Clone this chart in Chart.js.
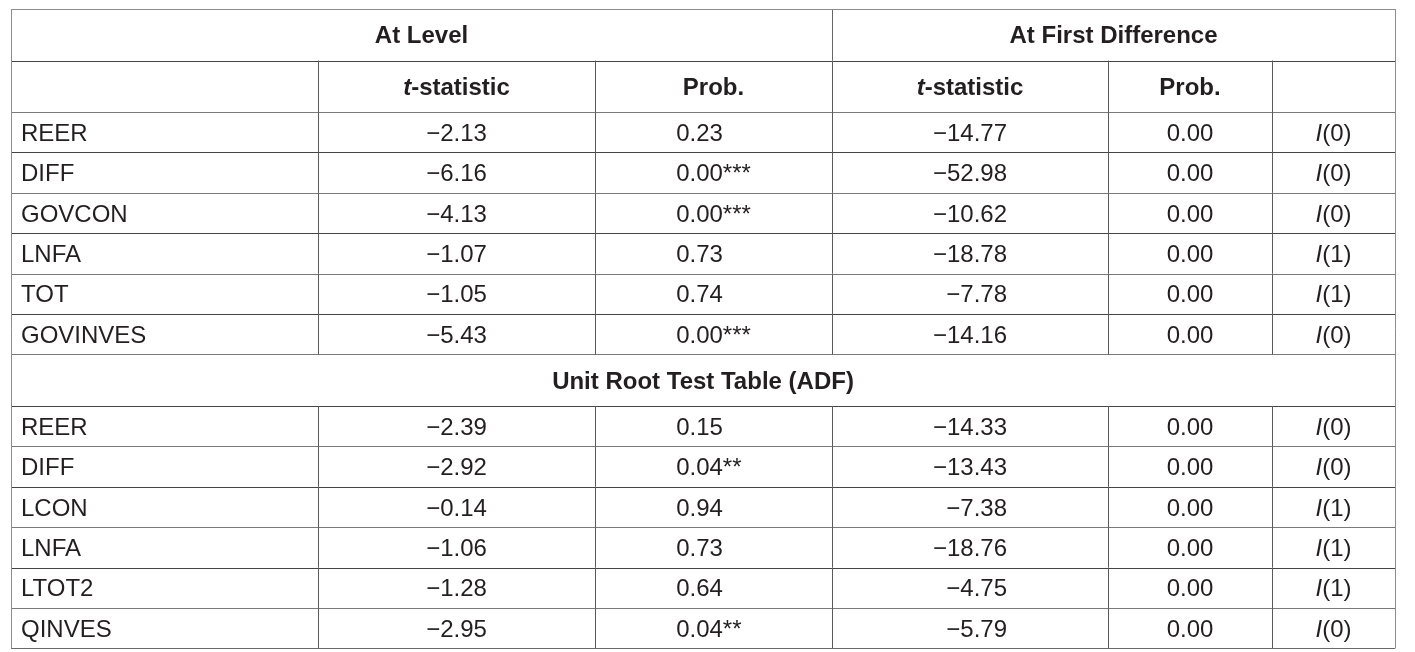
<!DOCTYPE html>
<html>
<head>
<meta charset="utf-8">
<script src="https://cdn.jsdelivr.net/npm/chart.js@4.4.0/dist/chart.umd.min.js"></script>
<style>
html,body{margin:0;padding:0;background:#fff;overflow:hidden}
canvas{display:block}
</style>
</head>
<body>
<canvas id="c" width="1415" height="652"></canvas>
<script>
// ---------- DATA ----------
const groupHeaders = ['At Level', 'At First Difference'];
const colHeaders = ['', 't-statistic', 'Prob.', 't-statistic', 'Prob.', ''];
const sectionTitle = 'Unit Root Test Table (ADF)';

const panelAVars   = ['REER', 'DIFF', 'GOVCON', 'LNFA', 'TOT', 'GOVINVES'];
const panelALevelT = [-2.13, -6.16, -4.13, -1.07, -1.05, -5.43];
const panelALevelP = [0.23, 0.00, 0.00, 0.73, 0.74, 0.00];
const panelAStars  = ['', '***', '***', '', '', '***'];
const panelADiffT  = [-14.77, -52.98, -10.62, -18.78, -7.78, -14.16];
const panelADiffP  = [0.00, 0.00, 0.00, 0.00, 0.00, 0.00];
const panelAOrder  = [0, 0, 0, 1, 1, 0];

const panelBVars   = ['REER', 'DIFF', 'LCON', 'LNFA', 'LTOT2', 'QINVES'];
const panelBLevelT = [-2.39, -2.92, -0.14, -1.06, -1.28, -2.95];
const panelBLevelP = [0.15, 0.04, 0.94, 0.73, 0.64, 0.04];
const panelBStars  = ['', '**', '', '', '', '**'];
const panelBDiffT  = [-14.33, -13.43, -7.38, -18.76, -4.75, -5.79];
const panelBDiffP  = [0.00, 0.00, 0.00, 0.00, 0.00, 0.00];
const panelBOrder  = [0, 0, 1, 1, 1, 0];

// ---------- LAYOUT (scale units) ----------
const colEdges = [11, 318, 595, 832, 1108, 1272, 1395];
const headerH = 51.5, dataH = 40.4, sectionH = 51.6, tableTop = 9;

const FONT = '"Liberation Sans", Arial, Helvetica, sans-serif';
const FS = 24;
const TXT = '#231f20';

function fmt(v){ const s = Math.abs(v).toFixed(2); return (v < 0 ? '\u2212' : '') + s; }

// build row list
const rows = [];
rows.push({type:'group'});
rows.push({type:'colhead'});
function pushPanel(vars, lt, lp, st, dt, dp, ord){
  for (let i = 0; i < vars.length; i++) {
    rows.push({type:'data', cells:[vars[i], fmt(lt[i]), lp[i].toFixed(2) + st[i], fmt(dt[i]), dp[i].toFixed(2), ord[i]]});
  }
}
pushPanel(panelAVars, panelALevelT, panelALevelP, panelAStars, panelADiffT, panelADiffP, panelAOrder);
rows.push({type:'section'});
pushPanel(panelBVars, panelBLevelT, panelBLevelP, panelBStars, panelBDiffT, panelBDiffP, panelBOrder);

const rowEdges = [tableTop];
rows.forEach(r => {
  const h = (r.type === 'group' || r.type === 'colhead') ? headerH : (r.type === 'section' ? sectionH : dataH);
  rowEdges.push(rowEdges[rowEdges.length - 1] + h);
});

const tablePlugin = {
  id: 'tablePlugin',
  beforeDraw(chart){
    const ctx = chart.ctx;
    ctx.save();
    ctx.fillStyle = '#fff';
    ctx.fillRect(0, 0, chart.width, chart.height);
    ctx.restore();
  },
  afterDraw(chart){
    const {ctx, scales:{x, y}} = chart;
    const X = v => x.getPixelForValue(v);
    const Y = v => y.getPixelForValue(v);
    const snap = p => Math.round(p) + 0.5;
    ctx.save();

    // ---- lines ----
    const line = (x1, y1, x2, y2, col) => {
      ctx.beginPath();
      ctx.strokeStyle = col;
      ctx.lineWidth = 1;
      if (y1 === y2) { ctx.moveTo(X(x1), snap(Y(y1))); ctx.lineTo(X(x2), snap(Y(y2))); }
      else { ctx.moveTo(snap(X(x1)), Y(y1)); ctx.lineTo(snap(X(x2)), Y(y2)); }
      ctx.stroke();
    };
    const L = colEdges[0], R = colEdges[colEdges.length - 1];
    for (let i = 1; i < rowEdges.length - 1; i++) {
      line(L, rowEdges[i], R, rowEdges[i], i % 2 ? '#444' : '#7a7a7a');
    }
    rows.forEach((r, i) => {
      const t = rowEdges[i], b = rowEdges[i + 1];
      if (r.type === 'group') line(colEdges[3], t, colEdges[3], b, '#666');
      else if (r.type === 'colhead' || r.type === 'data') {
        for (let c = 1; c < colEdges.length - 1; c++) line(colEdges[c], t, colEdges[c], b, '#5a5a5a');
      }
    });
    // outer border
    const top = rowEdges[0], bot = rowEdges[rowEdges.length - 1];
    line(L, top, R, top, '#8c8c8c');
    line(L, bot, R, bot, '#6a6a6a');
    line(L, top, L, bot, '#8c8c8c');
    line(R, top, R, bot, '#8c8c8c');

    // ---- text ----
    ctx.fillStyle = TXT;
    ctx.textBaseline = 'alphabetic';
    const reg = FS + 'px ' + FONT, bold = 'bold ' + FS + 'px ' + FONT;
    const ital = 'italic ' + FS + 'px ' + FONT, boldItal = 'italic bold ' + FS + 'px ' + FONT;
    const baseY = (i) => (Y(rowEdges[i]) + Y(rowEdges[i + 1])) / 2 + FS * 0.36;
    const colC = c => (X(colEdges[c]) + X(colEdges[c + 1])) / 2;

    const drawParts = (parts, cx, by) => { // centered multi-font text
      let w = 0;
      parts.forEach(p => { ctx.font = p[1]; w += ctx.measureText(p[0]).width; });
      let xx = cx - w / 2;
      ctx.textAlign = 'left';
      parts.forEach(p => { ctx.font = p[1]; ctx.fillText(p[0], xx, by); xx += ctx.measureText(p[0]).width; });
    };

    // column block widths for alignment
    ctx.font = reg;
    const dataRows = rows.filter(r => r.type === 'data');
    const maxW = [0, 0, 0, 0, 0, 0];
    dataRows.forEach(r => r.cells.forEach((v, c) => { if (c > 0 && c < 5) maxW[c] = Math.max(maxW[c], ctx.measureText(String(v)).width); }));
    const align = ['left', 'center', 'left', 'right', 'center', 'center'];

    rows.forEach((r, i) => {
      const by = baseY(i);
      if (r.type === 'group') {
        ctx.font = bold; ctx.textAlign = 'center';
        ctx.fillText(groupHeaders[0], (X(colEdges[0]) + X(colEdges[3])) / 2, by);
        ctx.fillText(groupHeaders[1], (X(colEdges[3]) + X(colEdges[6])) / 2, by);
      } else if (r.type === 'colhead') {
        colHeaders.forEach((h, c) => {
          if (!h) return;
          if (h.startsWith('t-')) drawParts([['t', boldItal], [h.slice(1), bold]], colC(c), by);
          else { ctx.font = bold; ctx.textAlign = 'center'; ctx.fillText(h, colC(c), by); }
        });
      } else if (r.type === 'section') {
        ctx.font = bold; ctx.textAlign = 'center';
        ctx.fillText(sectionTitle, (X(colEdges[0]) + X(colEdges[6])) / 2, by);
      } else {
        r.cells.forEach((v, c) => {
          if (c === 0) { ctx.font = reg; ctx.textAlign = 'left'; ctx.fillText(v, X(colEdges[0]) + 10, by); return; }
          if (c === 5) { drawParts([['I', ital], ['(' + v + ')', reg]], colC(c), by); return; }
          ctx.font = reg;
          const a = align[c];
          if (a === 'center') { ctx.textAlign = 'center'; ctx.fillText(v, colC(c), by); }
          else if (a === 'left') { ctx.textAlign = 'left'; ctx.fillText(v, colC(c) - maxW[c] / 2, by); }
          else { ctx.textAlign = 'right'; ctx.fillText(v, colC(c) + maxW[c] / 2, by); }
        });
      }
    });
    ctx.restore();
  }
};

new Chart(document.getElementById('c'), {
  type: 'scatter',
  data: { datasets: [] },
  options: {
    responsive: false,
    animation: false,
    devicePixelRatio: 1,
    events: [],
    layout: { padding: 0 },
    plugins: { legend: { display: false }, tooltip: { enabled: false } },
    scales: {
      x: { type: 'linear', min: 0, max: 1415, display: false },
      y: { type: 'linear', min: 0, max: 652, reverse: true, display: false }
    }
  },
  plugins: [tablePlugin]
});
</script>
</body>
</html>
